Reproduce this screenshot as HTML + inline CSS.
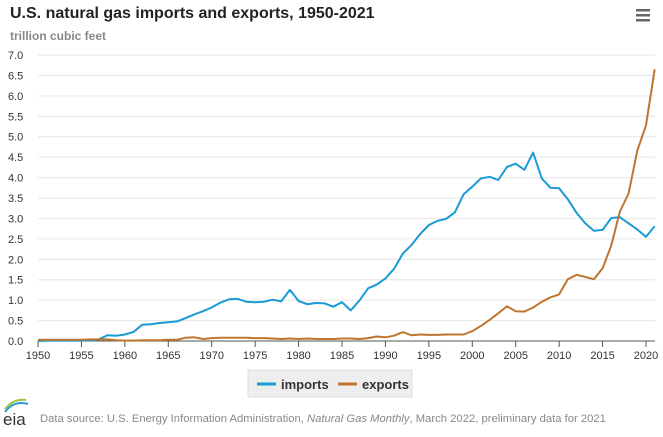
<!DOCTYPE html>
<html><head><meta charset="utf-8"><style>
body{margin:0;background:#fff;font-family:"Liberation Sans",sans-serif;}
svg text{font-family:"Liberation Sans",sans-serif;}
</style></head><body>
<svg id="c" width="663" height="432" xmlns="http://www.w3.org/2000/svg">
<text x="10" y="18" font-size="16" font-weight="bold" fill="#222">U.S. natural gas imports and exports, 1950-2021</text>
<text x="10" y="40" font-size="12" font-weight="bold" fill="#888">trillion cubic feet</text>
<g><rect x="636" y="9" width="14" height="2.5" fill="#666"/><rect x="636" y="14" width="14" height="2.5" fill="#666"/><rect x="636" y="19" width="14" height="2.5" fill="#666"/></g>
<g id="grid"></g><g id="xt"></g><g id="lines"></g>
<g>
<rect x="248" y="370" width="164" height="27" fill="#eee" stroke="#ddd"/>
<g><line x1="257" y1="384" x2="276" y2="384" stroke="#1a9ad6" stroke-width="3"/><text x="281" y="389" font-size="13" font-weight="bold" fill="#333">imports</text></g>
<g><line x1="338" y1="384" x2="357" y2="384" stroke="#bf7530" stroke-width="3"/><text x="362" y="389" font-size="13" font-weight="bold" fill="#333">exports</text></g>
</g>
<g><path d="M5 412 Q14 400 28 404" stroke="#2a9fd6" stroke-width="2" fill="none"/><path d="M5 409 Q14 398 26 400" stroke="#9bc53d" stroke-width="2" fill="none"/><text x="3" y="425" font-size="17" font-family="Liberation Serif" fill="#333">eia</text></g>
<text x="40" y="422" font-size="11.25" fill="#888">Data source: U.S. Energy Information Administration, <tspan font-style="italic">Natural Gas Monthly</tspan>, March 2022, preliminary data for 2021</text>
</svg>
<script>
const years=[];for(let y=1950;y<=2021;y++)years.push(y);
const imports=[0,.01,.01,.01,.01,.01,.01,.04,.14,.13,
.16,.22,.40,.41,.44,.46,.48,.56,.65,.73,
.82,.94,1.02,1.03,.96,.95,.96,1.01,.97,1.25,
.98,.90,.93,.92,.84,.95,.75,.99,1.29,1.38,
1.53,1.77,2.14,2.35,2.62,2.84,2.94,2.99,3.15,3.59,
3.78,3.98,4.02,3.94,4.26,4.34,4.19,4.61,3.98,3.75,
3.74,3.47,3.14,2.88,2.70,2.72,3.01,3.03,2.88,2.73,
2.55,2.81];
const exportsV=[.03,.03,.03,.03,.03,.03,.04,.04,.04,.02,
.01,.01,.02,.02,.02,.03,.03,.08,.09,.05,
.07,.08,.08,.08,.08,.07,.07,.06,.05,.06,
.05,.06,.05,.05,.05,.06,.06,.05,.07,.11,
.09,.13,.22,.14,.16,.15,.15,.16,.16,.16,
.24,.37,.52,.68,.85,.73,.72,.82,.96,1.07,
1.14,1.51,1.62,1.57,1.51,1.78,2.34,3.17,3.61,4.66,
5.28,6.65];
const yTicks=[0,0.5,1,1.5,2,2.5,3,3.5,4,4.5,5,5.5,6,6.5,7];
const xTicks=[1950,1955,1960,1965,1970,1975,1980,1985,1990,1995,2000,2005,2010,2015,2020];
const NS='http://www.w3.org/2000/svg';
const X=y=>38+(y-1950)*(608/70);
const Y=v=>341-v*(286/7);
function mk(t,a,p){const e=document.createElementNS(NS,t);for(const k in a)e.setAttribute(k,a[k]);p.appendChild(e);return e;}
const g=document.getElementById('grid');
yTicks.forEach(v=>{
 if(v>0){const l=mk('line',{x1:38,x2:655,y1:Y(v),y2:Y(v),stroke:'#e6e6e6'},g);
 
 }
 const t=mk('text',{x:8,y:Y(v)+4,'font-size':11,fill:'#333'},g);t.textContent=v.toFixed(1);
 
 
});
const xt=document.getElementById('xt');
const ax=mk('line',{x1:38,x2:655,y1:341,y2:341,stroke:'#555'},xt);


xTicks.forEach(y=>{
 mk('line',{x1:X(y),x2:X(y),y1:341,y2:347,stroke:'#555'},xt);
 const t=mk('text',{x:X(y),y:359,'font-size':11,fill:'#333','text-anchor':'middle'},xt);t.textContent=y;
 
 
});
const L=document.getElementById('lines');
function series(vals,color,name){
 const d=vals.map((v,i)=>(i?'L':'M')+X(years[i]).toFixed(1)+' '+Y(v).toFixed(1)).join(' ');
 const p=mk('path',{d:d,stroke:color,'stroke-width':2,fill:'none','stroke-linejoin':'round'},L);
 
 
}
series(imports,'#1a9ad6','imports-line');
series(exportsV,'#bf7530','exports-line');
</script>
</body></html>
